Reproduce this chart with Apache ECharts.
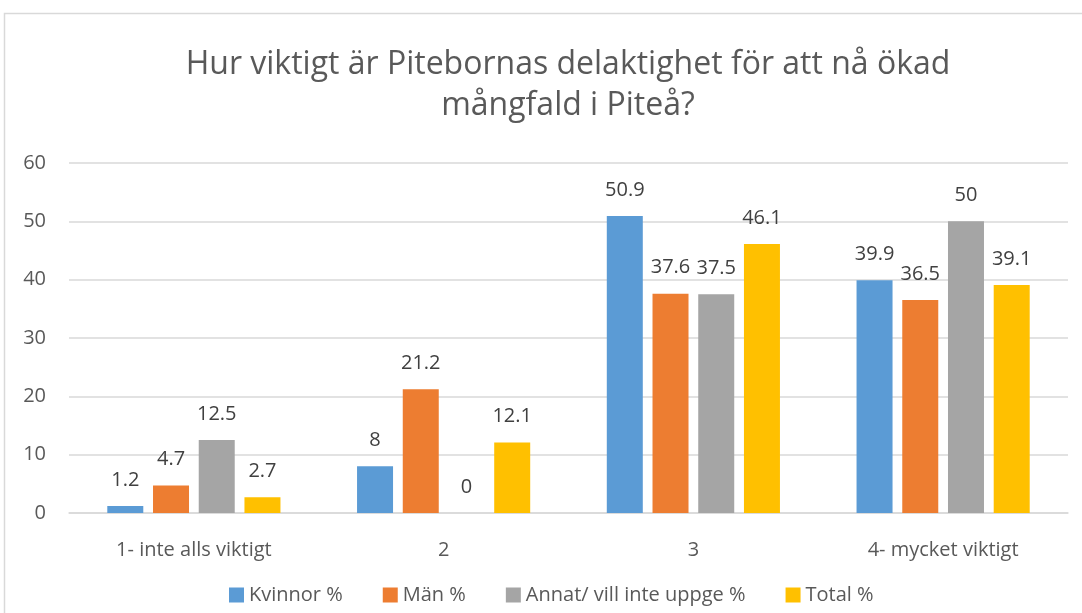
<!DOCTYPE html>
<html>
<head>
<meta charset="utf-8">
<script src="https://cdn.jsdelivr.net/npm/echarts@6/dist/echarts.min.js"></script>
<style>
  html, body { margin: 0; padding: 0; background: #fff; }
  #chart { width: 1082px; height: 613px; }
</style>
</head>
<body>
<div id="chart"></div>
<script>
const categories = ['1- inte alls viktigt', '2', '3', '4- mycket viktigt'];
const kvinnor = [1.2, 8, 50.9, 39.9];
const man = [4.7, 21.2, 37.6, 36.5];
const annat = [12.5, 0, 37.5, 50];
const total = [2.7, 12.1, 46.1, 39.1];
const seriesNames = ['Kvinnor %', 'Män %', 'Annat/ vill inte uppge %', 'Total %'];
const colors = ['#5B9BD5', '#ED7D31', '#A5A5A5', '#FFC000'];

const FONT = 'Open Sans';

const chart = echarts.init(document.getElementById('chart'));

const makeSeries = (name, data, i) => ({
  name,
  type: 'bar',
  data,
  barWidth: 36,
  barGap: '27%',
  itemStyle: { color: colors[i] },
  label: {
    show: true,
    position: 'top',
    distance: 16,
    color: '#404040',
    fontFamily: FONT,
    fontSize: 20,
  },
});

chart.setOption({
  animation: false,
  color: colors,
  title: {
    text: 'Hur viktigt är Pitebornas delaktighet för att nå ökad\nmångfald i Piteå?',
    left: 563,
    textAlign: 'center',
    top: 39,
    textStyle: {
      fontFamily: FONT,
      fontWeight: 'normal',
      fontSize: 32,
      color: '#595959',
      lineHeight: 41,
    },
  },
  graphic: [
    {
      type: 'rect',
      shape: { x: 4.5, y: 13.5, width: 1200, height: 800 },
      style: { fill: 'none', stroke: '#D9D9D9', lineWidth: 1.5 },
      silent: true,
    },
  ],
  legend: {
    top: 580,
    left: 224,
    itemWidth: 15,
    itemHeight: 15,
    itemGap: 40,
    icon: 'rect',
    textStyle: { fontFamily: FONT, fontSize: 20, color: '#595959' },
    data: seriesNames,
  },
  grid: {
    left: 69,
    right: 14,
    top: 163,
    bottom: 100,
    containLabel: false,
  },
  xAxis: {
    type: 'category',
    data: categories,
    axisTick: { show: false },
    axisLine: { lineStyle: { color: '#D9D9D9', width: 1.5 } },
    axisLabel: {
      fontFamily: FONT,
      fontSize: 20,
      color: '#595959',
      margin: 27,
    },
  },
  yAxis: {
    type: 'value',
    min: 0,
    max: 60,
    interval: 10,
    axisLine: { show: false },
    axisTick: { show: false },
    splitLine: { lineStyle: { color: '#D9D9D9', width: 1.5 } },
    axisLabel: {
      fontFamily: FONT,
      fontSize: 20,
      color: '#595959',
      margin: 23,
    },
  },
  series: [
    makeSeries(seriesNames[0], kvinnor, 0),
    makeSeries(seriesNames[1], man, 1),
    makeSeries(seriesNames[2], annat, 2),
    makeSeries(seriesNames[3], total, 3),
  ],
});
</script>
</body>
</html>
